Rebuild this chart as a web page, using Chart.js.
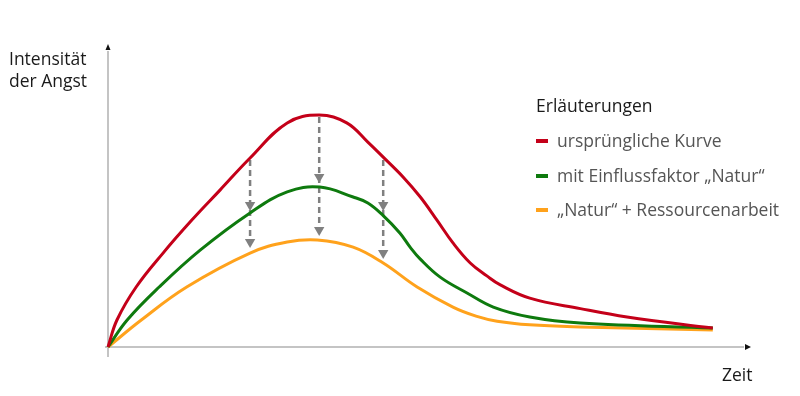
<!DOCTYPE html>
<html>
<head>
<meta charset="utf-8">
<script src="https://cdn.jsdelivr.net/npm/chart.js@4/dist/chart.umd.min.js"></script>
<style>
  html, body { margin: 0; padding: 0; background: #fff; }
  #wrap { position: relative; width: 800px; height: 396px; overflow: hidden; font-family: "Open Sans", "Noto Sans", sans-serif; }
  #c { position: absolute; left: 0; top: 0; }
  .lbl { position: absolute; font-size: 17.5px; color: #1a1a1a; line-height: 22px; white-space: nowrap; }
  .leg { position: absolute; font-size: 17.5px; color: #555; white-space: nowrap; line-height: 22px; }
  .mk { display: inline-block; width: 12px; height: 4px; vertical-align: middle; margin-right: 9px; position: relative; top: -1px; }
</style>
</head>
<body>
<div id="wrap">
  <canvas id="c" width="800" height="396"></canvas>
  <div class="lbl" style="left:9px; top:47px;">Intensität<br>der Angst</div>
  <div class="lbl" style="left:722px; top:363px;">Zeit</div>
  <div class="lbl" style="left:536px; top:94px;">Erläuterungen</div>
  <div class="leg" style="left:536px; top:129px;"><span class="mk" style="background:#c40019"></span>ursprüngliche Kurve</div>
  <div class="leg" style="left:536px; top:164px;"><span class="mk" style="background:#0e7a0e"></span>mit Einflussfaktor „Natur“</div>
  <div class="leg" style="left:536px; top:198px;"><span class="mk" style="background:#ffa21c"></span>„Natur“ + Ressourcenarbeit</div>
</div>
<script>
// Time axis 0..100, intensity 0..100 (arbitrary units)
const originalCurve = [
  [0,0],[1.4,9],[4.4,20],[8.6,31.3],[13.1,42.3],[17.5,52.3],[22.2,63],[28,74.7],[33,77.3],
  [37.3,74.7],[40.6,68.3],[43,63.3],[46.1,56.7],[48.8,50],[51.4,42.3],[53.9,34.7],[56.6,28],
  [59.2,23.7],[61.3,20.7],[65.9,16.3],[73.8,12.8],[81.1,10],[94.5,6.3]
];
const natureCurve = [
  [0,0],[3,9],[8,20],[14.4,32.3],[22.2,44.7],[28,51.7],[33.1,53.3],[38.3,50],[40.6,48],
  [43,43.8],[45.6,38],[47.2,33.3],[48.8,29.3],[51.9,23.3],[56.1,18],[60.2,13.3],[65.9,10],
  [73.8,8],[94.5,6.3]
];
const resourceCurve = [
  [0,0],[5.2,9],[12.3,20],[22.2,31.3],[28,35],[32.7,35.7],[38.3,33.3],[43,28],[48.3,20],
  [53.9,13.3],[57.5,10.3],[60.8,8.6],[65.9,7.4],[73.8,6.7],[94.5,5.7]
];
// Arrows: x position, start (on original curve), arrowhead 1, arrowhead 2
const arrowX = [22.2, 33, 43];
const arrowStart = [62.3, 76.7, 62.3];
const arrowHead1 = [47.3, 56.7, 47.3];
const arrowHead2 = [35, 39, 31.3];

const seriesNames = ["ursprüngliche Kurve", "mit Einflussfaktor „Natur“", "„Natur“ + Ressourcenarbeit"];
const seriesColors = ["#c40019", "#0e7a0e", "#ffa21c"];

const toPts = arr => arr.map(p => ({x: p[0], y: p[1]}));

const datasets = [];
arrowX.forEach((x, i) => {
  datasets.push({
    label: 'arrow' + i,
    data: [{x, y: arrowStart[i]}, {x, y: arrowHead1[i]}, {x, y: arrowHead2[i]}],
    borderColor: '#808080',
    backgroundColor: '#808080',
    borderWidth: 2.5,
    borderDash: [6, 4],
    pointStyle: 'triangle',
    rotation: 180,
    pointRadius: [0, 6, 6],
    pointBorderWidth: 0,
    tension: 0,
    order: 5
  });
});
[originalCurve, natureCurve, resourceCurve].forEach((arr, i) => {
  datasets.push({
    label: seriesNames[i],
    data: toPts(arr),
    borderColor: seriesColors[i],
    borderWidth: 3,
    pointRadius: 0,
    tension: 0.4,
    order: i + 1
  });
});

const axesPlugin = {
  id: 'axes',
  beforeDatasetsDraw(chart) {
    const {ctx, chartArea: a} = chart;
    ctx.save();
    ctx.strokeStyle = '#c4c4c4';
    ctx.lineWidth = 2;
    ctx.beginPath();
    ctx.moveTo(a.left, a.bottom + 10);
    ctx.lineTo(a.left, a.top + 4);
    ctx.moveTo(a.left - 3, a.bottom);
    ctx.lineTo(a.right - 4, a.bottom);
    ctx.stroke();
    ctx.fillStyle = '#111';
    ctx.beginPath();
    ctx.moveTo(a.left, a.top - 3);
    ctx.lineTo(a.left - 2.5, a.top + 3);
    ctx.lineTo(a.left + 2.5, a.top + 3);
    ctx.closePath();
    ctx.fill();
    ctx.beginPath();
    ctx.moveTo(a.right + 3, a.bottom);
    ctx.lineTo(a.right - 3, a.bottom - 3);
    ctx.lineTo(a.right - 3, a.bottom + 3);
    ctx.closePath();
    ctx.fill();
    ctx.restore();
  }
};

new Chart(document.getElementById('c'), {
  type: 'line',
  data: { datasets },
  options: {
    responsive: false,
    animation: false,
    devicePixelRatio: 1,
    layout: { padding: { left: 108, right: 52, top: 47, bottom: 49 } },
    clip: false,
    plugins: { legend: { display: false }, tooltip: { enabled: false } },
    scales: {
      x: { type: 'linear', min: 0, max: 100, display: false },
      y: { type: 'linear', min: 0, max: 100, display: false }
    }
  },
  plugins: [axesPlugin]
});
</script>
</body>
</html>
